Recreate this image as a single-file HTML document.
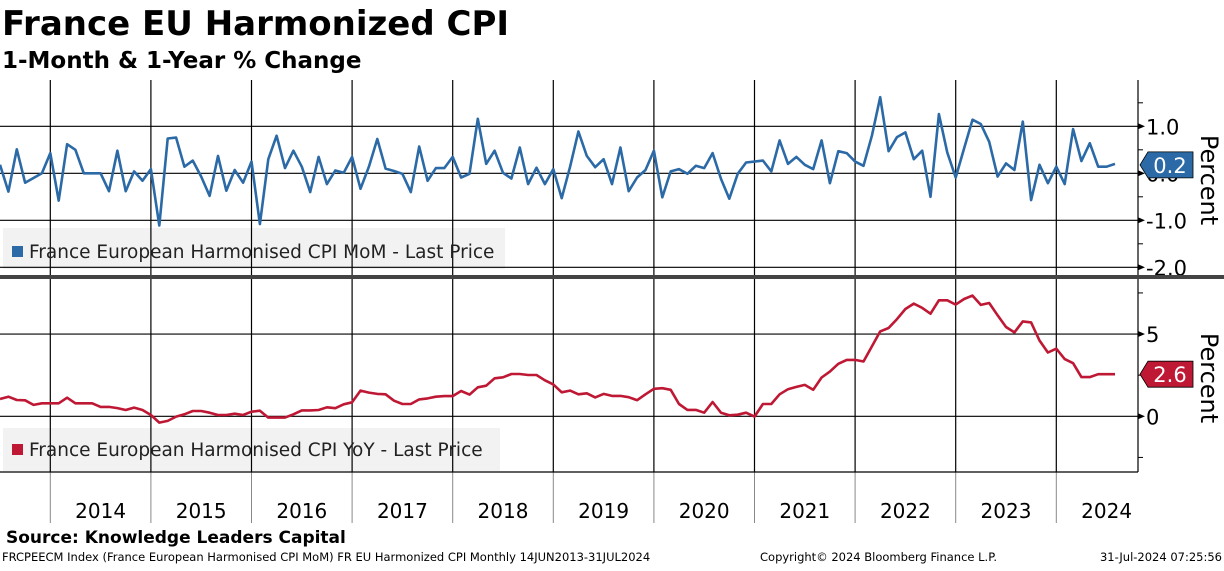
<!DOCTYPE html>
<html><head><meta charset="utf-8">
<style>
body{margin:0;background:#fff;width:1224px;height:566px;overflow:hidden;font-family:"Liberation Sans","DejaVu Sans",sans-serif;}
svg text{font-family:"DejaVu Sans","Liberation Sans",sans-serif;}
</style></head>
<body>
<svg id="chart" width="1224" height="566" viewBox="0 0 1224 566">
<text x="2" y="35" font-size="34" font-weight="bold" fill="#000">France EU Harmonized CPI</text>
<text x="2" y="68" font-size="23" font-weight="bold" fill="#000">1-Month &amp; 1-Year % Change</text>
<g id="grid"></g>
<g id="series"></g>
<g id="axes"></g>
<text x="6" y="543" font-size="17" font-weight="bold" fill="#000">Source: Knowledge Leaders Capital</text>
<text x="2" y="561" font-size="11.5" fill="#000">FRCPEECM Index (France European Harmonised CPI MoM) FR EU Harmonized CPI  Monthly 14JUN2013-31JUL2024</text>
<text x="760" y="561" font-size="11.5" fill="#000">Copyright© 2024 Bloomberg Finance L.P.</text>
<text x="1222" y="561" font-size="11.5" fill="#000" text-anchor="end">31-Jul-2024 07:25:56</text>
</svg>
<script>
const years = [2014,2015,2016,2017,2018,2019,2020,2021,2022,2023,2024];
const momValues = [0.18,-0.39,0.51,-0.2,-0.1,0.0,0.43,-0.58,0.62,0.5,0,0,0,-0.38,0.48,-0.38,0.04,-0.16,0.09,-1.11,0.74,0.76,0.14,0.27,-0.07,-0.48,0.37,-0.37,0.07,-0.2,0.25,-1.08,0.3,0.8,0.11,0.48,0.14,-0.4,0.35,-0.23,0.06,0.01,0.35,-0.33,0.14,0.73,0.1,0.05,-0.01,-0.4,0.57,-0.16,0.11,0.11,0.35,-0.09,-0.01,1.16,0.2,0.48,0.01,-0.11,0.55,-0.23,0.12,-0.23,0.09,-0.53,0.14,0.89,0.37,0.13,0.3,-0.23,0.55,-0.38,-0.09,0.07,0.48,-0.51,0.04,0.09,-0.01,0.16,0.11,0.43,-0.12,-0.54,-0.01,0.23,0.25,0.27,0.04,0.7,0.2,0.35,0.18,0.09,0.7,-0.21,0.47,0.43,0.25,0.16,0.8,1.62,0.47,0.77,0.87,0.3,0.48,-0.5,1.26,0.44,-0.09,0.53,1.14,1.05,0.67,-0.07,0.21,0.07,1.1,-0.57,0.18,-0.21,0.14,-0.23,0.94,0.26,0.64,0.14,0.14,0.2];
const yoyValues = [1.05,1.19,0.99,0.97,0.69,0.79,0.79,0.79,1.13,0.79,0.79,0.79,0.57,0.57,0.5,0.38,0.53,0.38,0.08,-0.38,-0.28,-0.02,0.12,0.32,0.32,0.22,0.08,0.08,0.16,0.08,0.28,0.34,-0.08,-0.08,-0.08,0.12,0.36,0.36,0.38,0.55,0.49,0.73,0.85,1.56,1.44,1.36,1.34,0.95,0.75,0.75,1.03,1.09,1.19,1.23,1.23,1.54,1.32,1.76,1.86,2.31,2.37,2.57,2.57,2.51,2.51,2.19,1.94,1.46,1.56,1.34,1.4,1.15,1.36,1.24,1.24,1.16,0.98,1.34,1.67,1.71,1.61,0.75,0.39,0.39,0.22,0.87,0.22,0.06,0.1,0.22,-0.02,0.75,0.75,1.34,1.65,1.79,1.91,1.61,2.36,2.72,3.19,3.43,3.43,3.33,4.25,5.16,5.37,5.91,6.52,6.85,6.59,6.24,7.05,7.05,6.79,7.13,7.34,6.77,6.89,6.14,5.43,5.1,5.77,5.71,4.61,3.88,4.11,3.48,3.23,2.38,2.38,2.56,2.56,2.56];
const momTicks = [1.0,0.0,-1.0,-2.0];
const momMinor = [1.5,0.5,-0.5,-1.5];
const yoyTicks = [5,0];
const yoyMinor = [7.5,2.5,-2.5];
const momLast = "0.2";
const yoyLast = "2.6";

const NS="http://www.w3.org/2000/svg";
const AXX=1138, YEAR0X=50.3, YEARW=100.6, MW=YEARW/12;
function xMonth(k){return YEAR0X+(k-6)*MW;}
function xYear(i){return YEAR0X+i*YEARW;}
function yMom(v){return 173.3-v*47;}
function yYoy(v){return 416.3-v*16.45;}
function mk(tag,attrs,parent){const e=document.createElementNS(NS,tag);for(const k in attrs)e.setAttribute(k,attrs[k]);parent.appendChild(e);return e;}
const grid=document.getElementById('grid'),series=document.getElementById('series'),axes=document.getElementById('axes');

let lg=mk('rect',{x:3,y:228,width:502,height:41,fill:'#f2f2f2'},grid);

lg=mk('rect',{x:3,y:428,width:497,height:43,fill:'#f2f2f2'},grid);


years.forEach((y,i)=>{
  const x=xYear(i);
  let l=mk('line',{x1:x,y1:80,x2:x,y2:472,stroke:'#000','stroke-width':1.2},grid);
  
  l=mk('line',{x1:x,y1:472,x2:x,y2:523,stroke:'#888','stroke-width':1},grid);
  
  const t=mk('text',{x:x+YEARW/2,y:518,'font-size':20,'text-anchor':'middle',fill:'#000'},axes);
  t.textContent=y;
  
});
momTicks.forEach(v=>{
  const y=yMom(v);
  let l=mk('line',{x1:0,y1:y,x2:AXX,y2:y,stroke:'#000','stroke-width':1.2},grid);
  
  const p=mk('path',{d:`M${AXX} ${y-3}L${AXX+7} ${y}L${AXX} ${y+3}Z`,fill:'#000'},axes);
  
  const t=mk('text',{x:AXX+8,y:y+8,'font-size':21,fill:'#000'},axes);
  t.textContent=v.toFixed(1);
  
});
momMinor.forEach(v=>{const y=yMom(v);const l=mk('line',{x1:AXX,y1:y,x2:AXX+5,y2:y,stroke:'#000'},axes);
  });
yoyTicks.forEach(v=>{
  const y=yYoy(v);
  let l=mk('line',{x1:0,y1:y,x2:AXX,y2:y,stroke:'#000','stroke-width':1.2},grid);
  
  const p=mk('path',{d:`M${AXX} ${y-3}L${AXX+7} ${y}L${AXX} ${y+3}Z`,fill:'#000'},axes);
  
  const t=mk('text',{x:AXX+8,y:y+8,'font-size':21,fill:'#000'},axes);
  t.textContent=v;
  
});
yoyMinor.forEach(v=>{const y=yYoy(v);const l=mk('line',{x1:AXX,y1:y,x2:AXX+5,y2:y,stroke:'#000'},axes);
  });
let a=mk('line',{x1:AXX,y1:80,x2:AXX,y2:472,stroke:'#000','stroke-width':1.2},axes);

a=mk('line',{x1:0,y1:472,x2:AXX,y2:472,stroke:'#000','stroke-width':1.2},axes);

a=mk('rect',{x:0,y:275,width:1224,height:4,fill:'#444'},axes);


function line(vals,yf,color,name){
  const d=vals.map((v,k)=>(k?'L':'M')+xMonth(k).toFixed(1)+' '+yf(v).toFixed(1)).join('');
  const p=mk('path',{d:d,fill:'none',stroke:color,'stroke-width':2.6,'stroke-linejoin':'round'},series);
  
}
line(momValues,yMom,'#2b6aa6','mom-line');
line(yoyValues,yYoy,'#be1834','yoy-line');

function legend(y,color,text,name){
  const r=mk('rect',{x:12,y:y-12,width:11,height:11,fill:color},axes);
  
  const t=mk('text',{x:29,y:y,'font-size':18.5,fill:'#222'},axes);
  t.textContent=text;
  
}
legend(258,'#2b6aa6','France European Harmonised CPI MoM - Last Price','mom-legend');
legend(456,'#be1834','France European Harmonised CPI YoY - Last Price','yoy-legend');

function badge(yc,color,text,name){
  const p=mk('path',{d:`M1140 ${yc}L1148 ${yc-13}H1193V${yc+13}H1148Z`,fill:color,stroke:'#000','stroke-width':0.8},axes);
  
  const t=mk('text',{x:1170,y:yc+8,'font-size':21,fill:'#fff','text-anchor':'middle'},axes);
  t.textContent=text;
  
}
badge(yMom(momValues[momValues.length-1])+1,'#2b6aa6',momLast,'mom-last-badge');
badge(yYoy(yoyValues[yoyValues.length-1]),'#be1834',yoyLast,'yoy-last-badge');

function ptitle(yc,name){
  const t=mk('text',{x:0,y:0,'font-size':24,fill:'#000','text-anchor':'middle',transform:`translate(1201 ${yc}) rotate(90)`},axes);
  t.textContent='Percent';
  
}
ptitle(180,'mom-y-axis-title');
ptitle(378,'yoy-y-axis-title');
</script>
</body></html>
